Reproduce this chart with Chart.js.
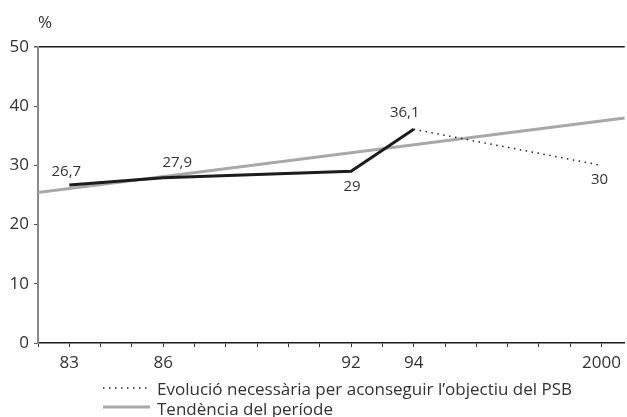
<!DOCTYPE html>
<html>
<head>
<meta charset="utf-8">
<script src="https://cdn.jsdelivr.net/npm/chart.js@4"></script>
<style>
  html, body { margin: 0; padding: 0; background: #fff; }
  #wrap { position: relative; width: 627px; height: 417px; }
</style>
</head>
<body>
<div id="wrap"><canvas id="c" width="627" height="417"></canvas></div>
<script>
// Observed percentages
const years = [83, 86, 92, 94];
const share = [26.7, 27.9, 29, 36.1];

// Path needed to reach the PSB objective
const targetYears = [94, 100];
const target = [36.1, 30];

// Period trend line (end points)
const trendYears = [82, 100.74];
const trend = [25.4, 38.0];

// Axis ticks
const xTicks = [82, 83, 84, 85, 86, 87, 88, 89, 90, 91, 92, 93, 94, 95, 96, 97, 98, 99, 100];
const xLabelYears = [83, 86, 92, 94, 100];
const xLabelTexts = ['83', '86', '92', '94', '2000'];
const yTicks = [0, 10, 20, 30, 40, 50];

// Legend texts
const legendTexts = [
  'Evolució necessària per aconseguir l\u2019objectiu del PSB',
  'Tendència del període'
];

const FONT = '"Open Sans", "Noto Sans", sans-serif';
const TEXT = '#333333';

function fmt(v) { return String(v).replace('.', ','); }

// Value labels: [dataset index, point index, dx, dy]
const valueLabels = [
  [0, 0, -3, -13],
  [0, 1, 14, -15],
  [0, 2, 1, 15],
  [0, 3, -9, -17],
  [1, 1, -2, 14]
];

const annotate = {
  id: 'annotate',
  afterDatasetsDraw(chart) {
    const ctx = chart.ctx;
    ctx.save();
    ctx.fillStyle = TEXT;
    ctx.font = '15px ' + FONT;
    ctx.textAlign = 'center';
    ctx.textBaseline = 'middle';
    valueLabels.forEach(([d, i, dx, dy]) => {
      const el = chart.getDatasetMeta(d).data[i];
      const v = chart.data.datasets[d].data[i].y;
      ctx.fillText(fmt(v), el.x + dx, el.y + dy);
    });
    // unit label
    ctx.font = '17px ' + FONT;
    ctx.textAlign = 'left';
    ctx.fillText('%', chart.chartArea.left, 23);

    // legend
    const x0 = 103, x1 = 150, tx = 157;
    const rows = [388, 407];
    ctx.lineCap = 'butt';
    ctx.strokeStyle = '#222';
    ctx.lineWidth = 1.5;
    ctx.setLineDash([1.5, 4.5]);
    ctx.beginPath(); ctx.moveTo(x0, rows[0]); ctx.lineTo(x1, rows[0]); ctx.stroke();
    ctx.setLineDash([]);
    ctx.strokeStyle = '#a8a8a8';
    ctx.lineWidth = 3;
    ctx.beginPath(); ctx.moveTo(x0, rows[1]); ctx.lineTo(x1, rows[1]); ctx.stroke();
    ctx.fillStyle = TEXT;
    ctx.textBaseline = 'alphabetic';
    ctx.fillText(legendTexts[0], tx, 395);
    ctx.fillText(legendTexts[1], tx, 414.5);
    ctx.restore();
  }
};

new Chart(document.getElementById('c'), {
  type: 'scatter',
  data: {
    datasets: [
      {
        data: years.map((x, i) => ({ x, y: share[i] })),
        showLine: true, borderColor: '#1c1c1c', borderWidth: 3,
        pointRadius: 0, tension: 0, order: 1
      },
      {
        data: targetYears.map((x, i) => ({ x, y: target[i] })),
        showLine: true, borderColor: '#222', borderWidth: 1.5,
        borderDash: [1.5, 4.5], pointRadius: 0, order: 2
      },
      {
        data: trendYears.map((x, i) => ({ x, y: trend[i] })),
        showLine: true, borderColor: '#a8a8a8', borderWidth: 3,
        pointRadius: 0, order: 3
      }
    ]
  },
  options: {
    responsive: false,
    animation: false,
    layout: { padding: { top: 47, left: 0, right: 0, bottom: 0 } },
    plugins: { legend: { display: false }, tooltip: { enabled: false } },
    scales: {
      x: {
        type: 'linear', min: 82, max: 100.74,
        afterBuildTicks(scale) { scale.ticks = xTicks.map(v => ({ value: v })); },
        afterFit(scale) { scale.height = 74; },
        border: { color: '#1a1a1a', width: 1.5 },
        grid: { drawOnChartArea: false, drawTicks: true, tickLength: 4, color: '#333', lineWidth: 1 },
        ticks: {
          autoSkip: false, maxRotation: 0, padding: 6,
          color: TEXT, font: { family: FONT, size: 17 },
          callback(v) { const k = xLabelYears.indexOf(v); return k >= 0 ? xLabelTexts[k] : ''; }
        }
      },
      y: {
        min: 0, max: 50,
        afterBuildTicks(scale) { scale.ticks = yTicks.map(v => ({ value: v })); },
        afterFit(scale) { scale.width = 38; },
        border: { color: '#8a8a8a', width: 2 },
        grid: {
          drawOnChartArea: true, drawTicks: true, tickLength: 4,
          color: c => (c.tick && c.tick.value === 50) ? '#1a1a1a' : 'rgba(0,0,0,0)',
          lineWidth: c => (c.tick && c.tick.value === 50) ? 1.5 : 1,
          tickColor: '#555'
        },
        ticks: { padding: 5, color: TEXT, font: { family: FONT, size: 17 } }
      }
    }
  },
  plugins: [annotate]
});
</script>
</body>
</html>
